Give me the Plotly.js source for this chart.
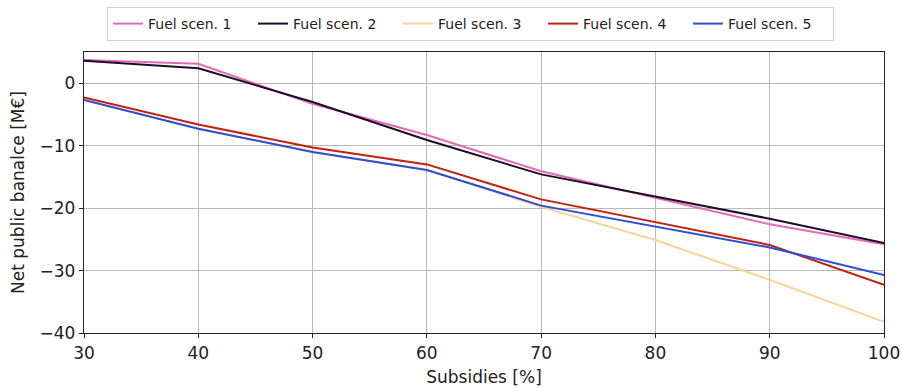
<!DOCTYPE html>
<html>
<head>
<meta charset="utf-8">
<script src="https://cdn.plot.ly/plotly-3.0.1.min.js"></script>
<style>html,body{margin:0;padding:0;background:#fff;}#chart{width:902px;height:388px;}</style>
</head>
<body>
<div id="chart"></div>
<script>
const subsidies = [30, 40, 50, 60, 70, 80, 90, 100];
const seriesNames = ["Fuel scen. 1", "Fuel scen. 2", "Fuel scen. 3", "Fuel scen. 4", "Fuel scen. 5"];
const fuel1 = [3.7, 3.1, -3.3, -8.3, -14.1, -18.4, -22.6, -25.8];
const fuel2 = [3.6, 2.4, -3.0, -9.1, -14.6, -18.1, -21.7, -25.6];
const fuel3 = [-2.7, -7.3, -11.0, -13.9, -19.8, -25.1, -31.5, -38.2];
const fuel4 = [-2.3, -6.6, -10.3, -13.0, -18.6, -22.2, -25.9, -32.3];
const fuel5 = [-2.7, -7.3, -11.0, -13.9, -19.6, -23.0, -26.3, -30.7];
const colors = ["#e46ab6", "#1e0c2c", "#fbd197", "#c4200e", "#2b4fd4"];

const allSeries = [fuel1, fuel2, fuel3, fuel4, fuel5];
const traces = seriesNames.map((name, i) => ({
  x: subsidies, y: allSeries[i], name: name, type: "scatter", mode: "lines",
  line: {color: colors[i], width: 2}
}));

const layout = {
  width: 902, height: 388,
  margin: {l: 84, r: 18, t: 52, b: 55},
  paper_bgcolor: "#fff", plot_bgcolor: "#fff",
  font: {family: "DejaVu Sans", color: "#222", size: 17},
  showlegend: true,
  legend: {orientation: "h", x: 0.02875, xanchor: "left", yref: "container", y: 0.982, yanchor: "top",
    bordercolor: "#d0d0d0", borderwidth: 1, font: {family: "DejaVu Sans", size: 14, color: "#222"},
    traceorder: "normal", itemwidth: 30, entrywidth: 100},
  xaxis: {range: [30, 100], tickvals: [30,40,50,60,70,80,90,100], showgrid: true, gridcolor: "#b8b8b8",
    zeroline: false, showline: true, linecolor: "#222", linewidth: 1.2, mirror: true,
    ticks: "outside", ticklen: 4, tickcolor: "#222", tickfont: {size: 17},
    title: {text: "Subsidies [%]", font: {size: 17}, standoff: 9}},
  yaxis: {range: [-40, 5], tickvals: [0,-10,-20,-30,-40], showgrid: true, gridcolor: "#b8b8b8",
    zeroline: false, showline: true, linecolor: "#222", linewidth: 1.2, mirror: true,
    ticks: "outside", ticklen: 4, tickcolor: "#222", tickfont: {size: 17},
    title: {text: "Net public banalce [M€]", font: {size: 17}, standoff: 10}}
};
Plotly.newPlot("chart", traces, layout, {staticPlot: true});
</script>
</body>
</html>
